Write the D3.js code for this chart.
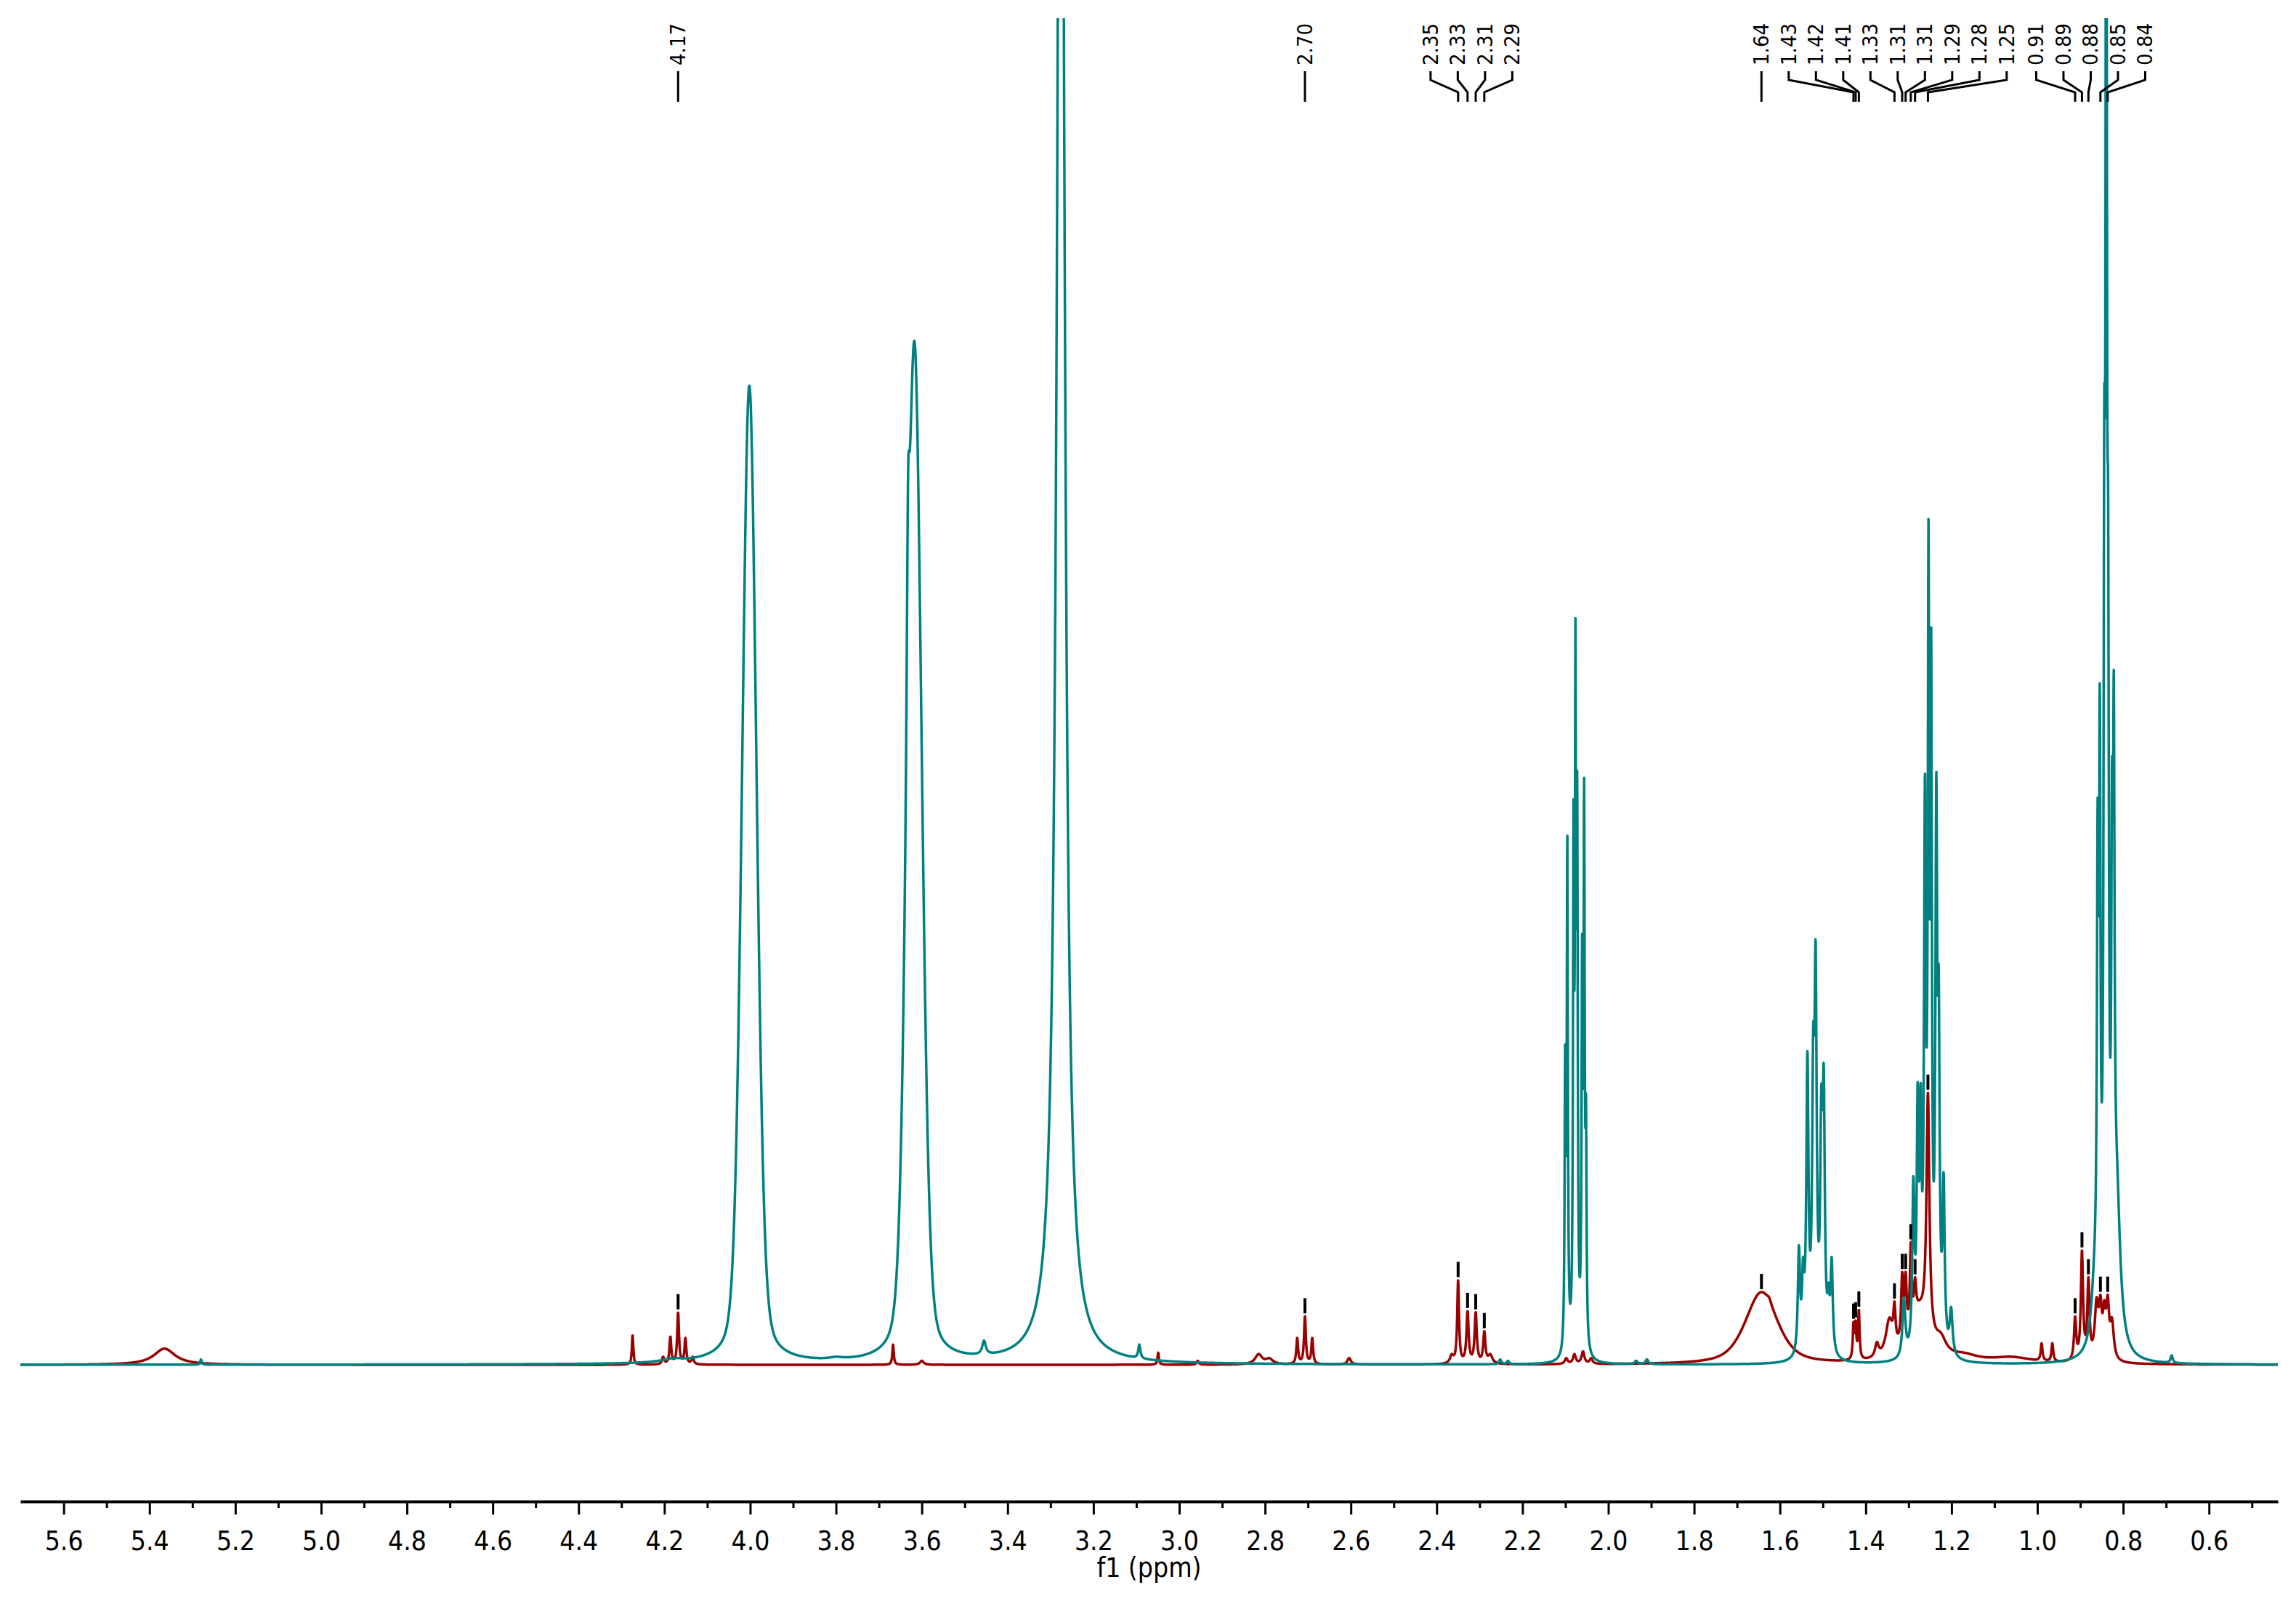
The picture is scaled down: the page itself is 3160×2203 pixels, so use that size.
<!DOCTYPE html>
<html>
<head>
<meta charset="utf-8">
<script src="https://cdn.jsdelivr.net/npm/d3@7"></script>
<style>
    body { margin: 0; background: #fff; }
    svg { display: block; }
</style>
</head>
<body>
<div id="chart"></div>
<script>
// peak tables: [shift (ppm), apex height (% of plot height), fwhm (ppm), lorentz fraction]
const redLines = [
    [5.365, 1.2, 0.060, 1],
    [4.274, 2.2, 0.004, 1],
    [4.203, 0.6, 0.006, 1],
    [4.186, 2.1, 0.005, 1],
    [4.168, 3.9, 0.005, 1],
    [4.151, 2.0, 0.005, 1],
    [4.134, 0.6, 0.006, 1],
    [3.667, 1.5, 0.004, 1],
    [3.600, 0.3, 0.010, 1],
    [3.049, 0.9, 0.004, 1],
    [2.957, 0.3, 0.006, 1],
    [2.815, 0.8, 0.020, 1],
    [2.790, 0.5, 0.020, 1],
    [2.725, 2.0, 0.005, 1],
    [2.707, 3.6, 0.005, 1],
    [2.690, 2.0, 0.005, 1],
    [2.604, 0.5, 0.010, 1],
    [2.365, 0.8, 0.010, 1],
    [2.350, 6.3, 0.005, 1],
    [2.328, 4.0, 0.006, 1],
    [2.309, 3.9, 0.006, 1],
    [2.289, 2.5, 0.006, 1],
    [2.275, 0.8, 0.012, 1],
    [2.098, 0.5, 0.008, 1],
    [2.079, 0.8, 0.008, 1],
    [2.059, 1.0, 0.008, 1],
    [2.040, 0.5, 0.008, 1],
    [1.643, 5.4, 0.090, 0.6],
    [1.625, 5.0, 0.010, 1],
    [1.4285, 3.2, 0.004, 1],
    [1.4235, 3.3, 0.004, 1],
    [1.416, 4.1, 0.004, 1],
    [1.374, 1.7, 0.010, 1],
    [1.345, 3.5, 0.020, 1],
    [1.333, 4.7, 0.006, 1],
    [1.315, 6.9, 0.006, 1],
    [1.307, 6.9, 0.006, 1],
    [1.295, 9.1, 0.005, 1],
    [1.285, 6.5, 0.006, 1],
    [1.275, 4.8, 0.050, 1],
    [1.255, 20.2, 0.008, 1],
    [1.225, 2.4, 0.030, 1],
    [1.170, 0.9, 0.080, 1],
    [1.060, 0.6, 0.120, 1],
    [0.990, 1.6, 0.005, 1],
    [0.965, 1.6, 0.005, 1],
    [0.912, 3.6, 0.006, 1],
    [0.896, 8.5, 0.006, 1],
    [0.881, 6.5, 0.006, 1],
    [0.862, 5.0, 0.010, 1],
    [0.853, 5.2, 0.008, 1],
    [0.844, 4.8, 0.008, 1],
    [0.836, 5.2, 0.008, 1],
    [0.826, 3.5, 0.010, 1]
];

const tealLines = [
    [5.280, 0.4, 0.004, 1],
    [4.180, 0.5, 0.060, 1],
    [4.002, 72.7, 0.040, 0.25],
    [3.930, 0.6, 0.030, 1],
    [3.800, 0.6, 0.040, 1],
    [3.680, 0.8, 0.030, 1],
    [3.632, 66, 0.008, 1],
    [3.617, 76, 0.040, 0.25],
    [3.455, 1.8, 0.010, 1],
    [3.400, 0.4, 0.010, 1],
    [3.276, 150, 0.020, 1],
    [3.093, 1.5, 0.006, 1],
    [2.252, 0.4, 0.006, 1],
    [2.234, 0.3, 0.006, 1],
    [2.1005, 24, 0.003, 1],
    [2.0955, 39.5, 0.003, 1],
    [2.0810, 42, 0.003, 1],
    [2.0765, 55.7, 0.003, 1],
    [2.0725, 44, 0.003, 1],
    [2.0610, 32, 0.003, 1],
    [2.0563, 43.8, 0.003, 1],
    [2.0520, 20, 0.003, 1],
    [1.935, 0.3, 0.008, 1],
    [1.910, 0.4, 0.008, 1],
    [1.5557, 8.9, 0.006, 1],
    [1.5461, 8.0, 0.006, 1],
    [1.5359, 23.3, 0.006, 1],
    [1.5224, 25.2, 0.006, 1],
    [1.5168, 31.5, 0.006, 1],
    [1.5035, 20.8, 0.006, 1],
    [1.4979, 22.3, 0.006, 1],
    [1.4866, 6.1, 0.006, 1],
    [1.4793, 8.0, 0.006, 1],
    [1.311, 5.0, 0.008, 1],
    [1.289, 14, 0.006, 1],
    [1.279, 21, 0.005, 1],
    [1.272, 21, 0.005, 1],
    [1.262, 44, 0.005, 1],
    [1.2537, 63, 0.004, 1],
    [1.2475, 55, 0.004, 1],
    [1.2355, 44, 0.005, 1],
    [1.2299, 29.5, 0.005, 1],
    [1.2185, 14.3, 0.006, 1],
    [1.201, 4.3, 0.008, 1],
    [0.866, 9.8, 0.020, 1],
    [0.8595, 42, 0.004, 1],
    [0.8545, 50.6, 0.004, 1],
    [0.844, 72, 0.004, 1],
    [0.8394, 130, 0.004, 1],
    [0.835, 65, 0.004, 1],
    [0.826, 45, 0.004, 1],
    [0.8218, 51.6, 0.004, 1],
    [0.815, 16.3, 0.020, 1],
    [0.687, 0.7, 0.006, 1]
];

const peakLabels = ["4.17", "2.70", "2.35", "2.33", "2.31", "2.29", "1.64", "1.43", "1.42", "1.41",
                    "1.33", "1.31", "1.31", "1.29", "1.28", "1.25", "0.91", "0.89", "0.88", "0.85", "0.84"];
const peakShifts = [4.168, 2.707, 2.350, 2.328, 2.309, 2.289, 1.643, 1.4285, 1.4235, 1.416,
                    1.333, 1.315, 1.307, 1.295, 1.285, 1.255, 0.912, 0.896, 0.881, 0.853, 0.836];

const majorTicks = [5.6, 5.4, 5.2, 5.0, 4.8, 4.6, 4.4, 4.2, 4.0, 3.8, 3.6, 3.4, 3.2, 3.0, 2.8, 2.6, 2.4, 2.2, 2.0, 1.8, 1.6, 1.4, 1.2, 1.0, 0.8, 0.6];
const minorTicks = [5.5, 5.3, 5.1, 4.9, 4.7, 4.5, 4.3, 4.1, 3.9, 3.7, 3.5, 3.3, 3.1, 2.9, 2.7, 2.5, 2.3, 2.1, 1.9, 1.7, 1.5, 1.3, 1.1, 0.9, 0.7, 0.5];

let width = 3160;
let height = 2203;
let fontFamily = "'DejaVu Sans Condensed', 'DejaVu Sans', sans-serif";

let x = d3.scaleLinear().domain([5.701, 0.4395]).range([28, 3135]);
let y = d3.scaleLinear().domain([0, 100]).range([1878, 25]);

function profile(line, p) {
    let d = (p - line[0]) / (line[2] / 2);
    let lor = 1 / (1 + d * d);
    let gau = Math.exp(-Math.LN2 * d * d);
    return line[3] * lor + (1 - line[3]) * gau;
}

// amplitudes so that the summed trace passes through the read apex heights
function fitAmps(lines) {
    let amps = lines.map(l => l[1]);
    for (let k = 0; k < 300; k++) {
        lines.forEach((l, i) => {
            let s = 0;
            lines.forEach((m, j) => { s += amps[j] * profile(m, l[0]); });
            amps[i] = Math.max(0, amps[i] + 0.6 * (l[1] - s));
        });
    }
    return amps;
}

function valueAt(lines, amps, p) {
    let s = 0;
    for (let j = 0; j < lines.length; j++) s += amps[j] * profile(lines[j], p);
    return s;
}

function trace(lines) {
    let amps = fitAmps(lines);
    let pts = [];
    let [hi, lo] = x.domain();
    for (let p = hi; p >= lo; p -= 0.0004) pts.push([p, valueAt(lines, amps, p)]);
    return { pts: pts, amps: amps };
}

let svg = d3.select("#chart").append("svg")
    .attr("width", width)
    .attr("height", height);

svg.append("rect").attr("width", width).attr("height", height).attr("fill", "#fff");

svg.append("clipPath").attr("id", "plot-clip")
    .append("rect")
    .attr("x", x.range()[0])
    .attr("y", y.range()[1])
    .attr("width", x.range()[1] - x.range()[0])
    .attr("height", 1990 - y.range()[1]);

let line = d3.line().x(d => x(d[0])).y(d => y(d[1]));

let red = trace(redLines);
let teal = trace(tealLines);

let plot = svg.append("g").attr("clip-path", "url(#plot-clip)");

plot.append("path")
    .attr("d", line(red.pts))
    .attr("fill", "none")
    .attr("stroke", "#990000")
    .attr("stroke-width", 3.5)
    .attr("stroke-linejoin", "round");

plot.append("path")
    .attr("d", line(teal.pts))
    .attr("fill", "none")
    .attr("stroke", "#008080")
    .attr("stroke-width", 3.5)
    .attr("stroke-linejoin", "round");

// peak markers over the red trace
peakShifts.forEach(p => {
    let v = valueAt(redLines, red.amps, p);
    svg.append("rect")
        .attr("x", x(p) - 2)
        .attr("y", y(v) - 25)
        .attr("width", 4)
        .attr("height", 21)
        .attr("fill", "#000");
});

// spread the peak labels so they don't overlap
let gap = 37.5;
let items = peakShifts.map((p, i) => ({ i: i, px: x(p) })).sort((a, b) => a.px - b.px);
let clusters = [];
items.forEach(it => {
    clusters.push({ members: [it], sum: it.px });
    while (clusters.length > 1) {
        let b = clusters[clusters.length - 1];
        let a = clusters[clusters.length - 2];
        let aStart = a.sum / a.members.length - (a.members.length - 1) * gap / 2;
        let bStart = b.sum / b.members.length - (b.members.length - 1) * gap / 2;
        if (aStart + a.members.length * gap > bStart) {
            clusters.pop();
            a.members = a.members.concat(b.members);
            a.sum += b.sum;
        } else break;
    }
});

let labelG = svg.append("g");
clusters.forEach(c => {
    let n = c.members.length;
    let start = c.sum / n - (n - 1) * gap / 2;
    // pin the cluster to its first peak when it's nearly there already
    if (Math.abs(start - c.members[0].px) < 14) start = c.members[0].px;
    c.members.forEach((m, k) => {
        let px = m.px;
        let lx = start + k * gap;
        let d = Math.abs(lx - px) < 1
            ? "M" + px + ",98L" + px + ",140"
            : "M" + lx + ",98L" + lx + ",110L" + px + ",127L" + px + ",140";
        labelG.append("path")
            .attr("d", d)
            .attr("fill", "none")
            .attr("stroke", "#000")
            .attr("stroke-width", 3);
        labelG.append("text")
            .attr("transform", "translate(" + lx + ",90) rotate(-90)")
            .attr("dominant-baseline", "central")
            .style("font-family", fontFamily)
            .style("font-size", "29px")
            .attr("fill", "#000")
            .text(peakLabels[m.i]);
    });
});

// axis
let axisY = 2066;
let axisG = svg.append("g")
    .attr("transform", "translate(0," + axisY + ")")
    .call(d3.axisBottom(x)
        .tickValues(majorTicks)
        .tickSize(18)
        .tickSizeOuter(0)
        .tickPadding(23)
        .tickFormat(d3.format(".1f")));

axisG.select(".domain").attr("stroke", "#000").attr("stroke-width", 4);
axisG.selectAll(".tick line").attr("stroke", "#000").attr("stroke-width", 3);
axisG.selectAll(".tick text")
    .attr("fill", "#000")
    .style("font-family", fontFamily)
    .style("font-size", "37px");

let minorG = svg.append("g")
    .attr("transform", "translate(0," + axisY + ")")
    .call(d3.axisBottom(x)
        .tickValues(minorTicks)
        .tickSize(9)
        .tickSizeOuter(0)
        .tickFormat(""));
minorG.select(".domain").remove();
minorG.selectAll(".tick line").attr("stroke", "#000").attr("stroke-width", 3);

svg.append("text")
    .attr("x", (x.range()[0] + x.range()[1]) / 2)
    .attr("y", 2170)
    .attr("text-anchor", "middle")
    .attr("fill", "#000")
    .style("font-family", fontFamily)
    .style("font-size", "37px")
    .text("f1 (ppm)");
</script>
</body>
</html>
